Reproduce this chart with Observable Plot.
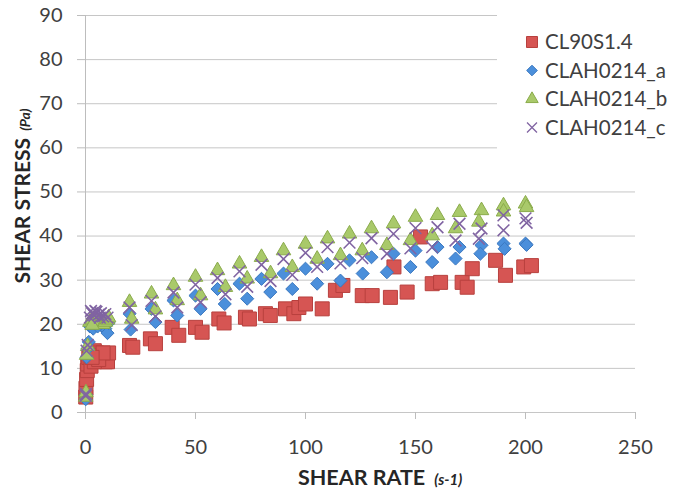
<!DOCTYPE html>
<html>
<head>
<meta charset="utf-8">
<script src="https://cdn.jsdelivr.net/npm/d3@7"></script>
<script src="https://cdn.jsdelivr.net/npm/@observablehq/plot@0.6"></script>
<style>
  html, body { margin: 0; padding: 0; background: #fff; }
  #wrap { position: relative; width: 674px; height: 489px; font-family: Lato, "Open Sans", sans-serif; }
  #xtitle { position: absolute; left: 298px; top: 464px; font-weight: bold; font-size: 21.5px; color: #262626; white-space: nowrap; }
  #ytitle { position: absolute; left: 21px; top: 196px; transform: translate(-50%, -50%) rotate(-90deg); font-weight: bold; font-size: 21px; color: #262626; white-space: nowrap; }
  .unit { font-style: italic; font-size: 15px; margin-left: 9px; }
  #ytitle .unit { font-size: 14px; margin-left: 7px; }
  #legend { position: absolute; left: 497px; top: 0px; width: 177px; height: 150px; background: #fff; }
</style>
</head>
<body>
<div id="wrap">
  <div id="chart"></div>
  <div id="legend"></div>
  <div id="xtitle">SHEAR RATE<span class="unit">(s-1)</span></div>
  <div id="ytitle">SHEAR STRESS<span class="unit">(Pa)</span></div>
</div>
<script>
// ---------- data ----------
const seriesNames = ["CL90S1.4", "CLAH0214_a", "CLAH0214_b", "CLAH0214_c"];
const xTicks = [0, 50, 100, 150, 200, 250];
const yTicks = [0, 10, 20, 30, 40, 50, 60, 70, 80, 90];

// CL90S1.4
const redX = [0.1, 0.2, 0.5, 0.8, 1, 1.5, 2, 3, 4, 5, 6, 7, 8, 9, 10, 10.5, 2.5, 4, 6, 8, 3,
  20, 21.5, 29.5, 31.8, 39.4, 42.4, 50, 53, 60.6, 63, 72.7, 74.5, 81.8, 84, 90.9, 94.7, 97, 100,
  107.6, 113.6, 117, 125.8, 130.3, 138.6, 140.2, 146.2, 152.3, 157.6, 161.4, 171.2, 173.5, 175.8,
  186.4, 190.9, 199.2, 202.7];
const redY = [3.5, 5.5, 7.5, 9.5, 11, 12.5, 13.5, 13.8, 14, 13.5, 13, 12.5, 12, 11.5, 11.5, 13.5, 10.5, 11.5, 12, 13.5, 12.5,
  15.2, 14.8, 16.7, 15.6, 19.3, 17.5, 19.3, 18.2, 21.2, 20.3, 21.6, 21.2, 22.4, 22.0, 23.5, 22.4, 23.8, 24.6,
  23.5, 27.7, 28.8, 26.5, 26.5, 26.1, 33.0, 27.3, 39.8, 29.2, 29.5, 29.5, 28.4, 32.6,
  34.5, 31.1, 33.0, 33.3];

// CLAH0214_a
const blueX = [0.1, 0.2, 0.5, 1, 1.5, 2, 3, 4, 5, 6, 7, 8, 9, 10, 10.5, 3.5, 5.5,
  20, 30, 40, 50, 60, 70, 80, 90, 100, 110, 120, 130, 140, 150, 160, 170, 180, 190, 200,
  20.5, 31.8, 41.7, 52.3, 63.3, 73.5, 84, 94, 105.3, 115.9, 126, 137, 147.7, 157.6, 168.2, 179.5, 190.5, 200.5];
const blueY = [3, 4, 12.5, 14.5, 16, 19.5, 20.5, 20.2, 20, 20.3, 19.8, 19.5, 19, 18, 20.3, 19, 19.5,
  22.4, 23.5, 25.4, 26.5, 28.0, 29.2, 30.3, 31.5, 32.6, 33.7, 34.5, 35.2, 36.0, 36.7, 37.5, 37.5, 37.9, 38.3, 38.3,
  18.8, 20.5, 22.0, 23.5, 24.6, 25.8, 27.3, 28.0, 29.2, 29.9, 31.5, 31.8, 33.0, 34.1, 34.9, 36.0, 37.1, 38.0];

// CLAH0214_b
const greenX = [0.1, 0.2, 0.5, 1, 2, 3, 4, 5, 6, 7, 8, 9, 10, 10.5, 3,
  20, 30, 40, 50, 60, 70, 80, 90, 100, 110, 120, 130, 140, 150, 160, 170, 180, 190, 200,
  21, 31.8, 41.7, 52.3, 63.6, 73.5, 84.1, 94, 105.3, 115.9, 125.8, 137, 147.7, 157.6, 168.2, 178.8, 190, 200.5];
const greenY = [3.5, 4.5, 13, 15, 20.5, 21, 20.5, 20.8, 20.2, 20.5, 20, 20.5, 21, 21.5, 19.8,
  25.0, 26.9, 28.8, 30.7, 32.2, 33.7, 35.2, 36.7, 38.2, 39.4, 40.5, 41.7, 42.8, 44.3, 44.7, 45.4, 45.8, 46.9, 47.3,
  21.2, 23.3, 25.4, 26.5, 28.4, 30.3, 31.5, 32.9, 34.8, 35.6, 36.7, 37.9, 39.0, 40.1, 41.7, 43.2, 45.5, 46.5];

// CLAH0214_c
const purpleX = [0.1, 0.2, 0.5, 1, 2, 3, 4, 5, 6, 7, 8, 9, 10, 2.5, 4.5, 6.5,
  20, 30, 40, 50, 60, 70, 80, 90, 100, 110, 120, 130, 140, 150, 160, 170, 180, 190, 200,
  21, 31.8, 41.7, 52.3, 63.6, 73.5, 84.1, 94, 105.3, 115.9, 125.8, 137, 147.7, 157.6, 168.2, 178.8, 190, 200.5];
const purpleY = [3.8, 4.2, 14, 15.3, 21.5, 22.5, 22, 22.8, 22.2, 22.5, 21.8, 22.3, 21.5, 23, 23, 21.5,
  23.8, 25.3, 27.2, 29.0, 30.5, 32.0, 33.5, 34.8, 36.2, 37.5, 38.5, 39.5, 40.5, 41.8, 42.0, 42.8, 41.7, 44.7, 44.0,
  19.8, 21.8, 23.8, 25.0, 26.8, 28.5, 29.8, 31.2, 33.0, 33.8, 35.0, 36.0, 37.2, 37.5, 39.0, 39.4, 41.3, 43.0];

// ---------- styles ----------
const styles = [
  {symbol: "square",   fill: "#d65553", stroke: "#b8403e", strokeWidth: 1, r: 7.9},
  {symbol: "diamond2", fill: "#4b8fdb", stroke: "#3b78c0", strokeWidth: 1, r: 5.9},
  {symbol: "triangle", fill: "#a9c96a", stroke: "#8aab4b", strokeWidth: 1, r: 5.4},
  {symbol: "times",    fill: "none",    stroke: "#8064a2", strokeWidth: 1.6, r: 5.4}
];
const xsAll = [redX, blueX, greenX, purpleX];
const ysAll = [redY, blueY, greenY, purpleY];
const tables = xsAll.map((xs, k) => xs.map((x, i) => ({x, y: ysAll[k][i]})));

const chart = Plot.plot({
  width: 674,
  height: 489,
  marginLeft: 85,
  marginRight: 39,
  marginTop: 15,
  marginBottom: 77,
  style: {fontFamily: "Lato, 'Open Sans', sans-serif", fontSize: "20px", background: "white", color: "#404040"},
  x: {domain: [0, 250], label: null},
  y: {domain: [0, 90], label: null},
  marks: [
    Plot.gridY(yTicks, {stroke: "#c6c6c6", strokeOpacity: 1}),
    Plot.ruleX([0], {y1: 0, y2: 90, stroke: "#bdbdbd"}),
    Plot.axisX(xTicks, {tickSize: 7, tickPadding: 20, stroke: "#bdbdbd", fill: "#404040", label: null}),
    Plot.axisY(yTicks, {tickSize: 8, tickPadding: 15, stroke: "#bdbdbd", fill: "#404040", label: null}),
    ...tables.map((t, k) => Plot.dot(t, {
      x: "x", y: "y",
      symbol: () => styles[k].symbol,
      r: styles[k].r,
      fill: styles[k].fill,
      stroke: styles[k].stroke,
      strokeWidth: styles[k].strokeWidth
    }))
  ]
});
document.getElementById("chart").appendChild(chart);

// ---------- legend ----------
const symMap = {square: d3.symbolSquare, diamond2: d3.symbolDiamond2, triangle: d3.symbolTriangle, times: d3.symbolTimes};
const legendSizes = [6.2, 4.8, 4.6, 4.6];
const leg = d3.select("#legend").append("svg").attr("width", 177).attr("height", 150);
const rows = leg.selectAll("g").data(seriesNames).join("g")
  .attr("transform", (d, i) => `translate(35, ${42 + i * 28.5})`);
rows.append("path")
  .attr("d", (d, i) => d3.symbol(symMap[styles[i].symbol], legendSizes[i] * legendSizes[i] * Math.PI)())
  .attr("fill", (d, i) => styles[i].fill)
  .attr("stroke", (d, i) => styles[i].stroke)
  .attr("stroke-width", (d, i) => styles[i].symbol === "times" ? 1.3 : 1);
rows.append("text")
  .attr("x", 13)
  .attr("dy", "0.35em")
  .attr("fill", "#404040")
  .style("font-family", "Lato, 'Open Sans', sans-serif")
  .style("font-size", "20.5px")
  .text(d => d);
</script>
</body>
</html>
